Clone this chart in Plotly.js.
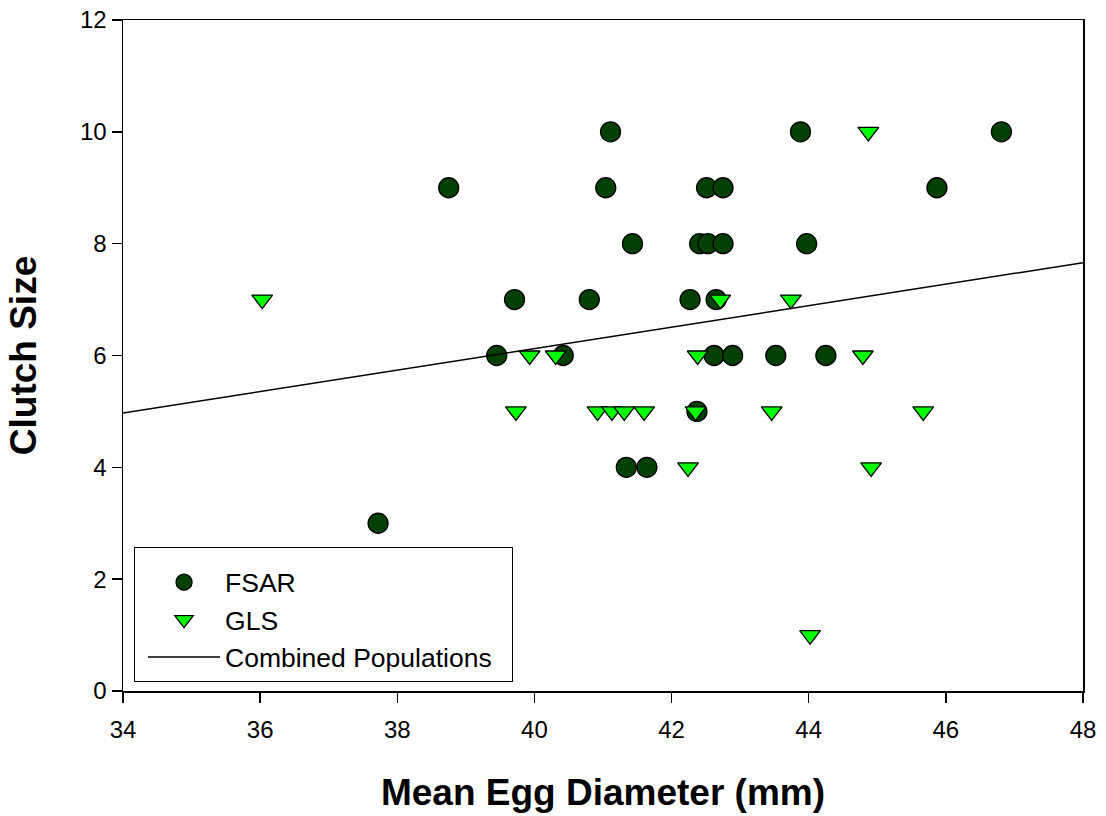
<!DOCTYPE html>
<html>
<head>
<meta charset="utf-8">
<script src="https://cdn.plot.ly/plotly-3.0.1.min.js"></script>
<style>html,body{margin:0;padding:0;background:#fff;}#chart{width:1106px;height:816px;}</style>
</head>
<body>
<div id="chart"></div>
<script>
// FSAR population
const fsarX = [41.11, 43.88, 46.81,
  38.75, 41.04, 42.51, 42.75, 45.87,
  41.43, 42.41, 42.53, 42.75, 43.97,
  39.71, 40.80, 42.27, 42.65,
  39.45, 40.42, 42.62, 42.89, 43.52, 44.25,
  42.37,
  41.34, 41.64,
  37.72];
const fsarY = [10, 10, 10,
  9, 9, 9, 9, 9,
  8, 8, 8, 8, 8,
  7, 7, 7, 7,
  6, 6, 6, 6, 6, 6,
  5,
  4, 4,
  3];
// GLS population
const glsX = [44.87,
  36.03, 42.71, 43.74,
  39.93, 40.31, 42.38, 44.79,
  39.73, 40.92, 41.13, 41.31, 41.60, 42.35, 43.46, 45.67,
  42.24, 44.91,
  44.02];
const glsY = [10,
  7, 7, 7,
  6, 6, 6, 6,
  5, 5, 5, 5, 5, 5, 5, 5,
  4, 4,
  1];
// Combined populations regression line (read endpoints)
const lineX = [34, 48];
const lineY = [4.97, 7.66];

const xTicks = [34, 36, 38, 40, 42, 44, 46, 48];
const yTicks = [0, 2, 4, 6, 8, 10, 12];

const FONT = 'Liberation Sans, Arial, sans-serif';

const traces = [
  {x: fsarX, y: fsarY, type: 'scatter', mode: 'markers', name: 'FSAR',
   marker: {symbol: 'circle', size: 20, color: '#004000', line: {color: '#000', width: 1.3}}},
  {x: glsX, y: glsY, type: 'scatter', mode: 'markers', name: 'GLS',
   marker: {symbol: 'triangle-down', size: 18, color: '#00ff00', line: {color: '#000', width: 1.3}}},
  {x: lineX, y: lineY, type: 'scatter', mode: 'lines', name: 'Combined Populations&nbsp;&nbsp;',
   line: {color: '#000', width: 1.5}}
];

const layout = {
  width: 1106, height: 816,
  margin: {l: 123, r: 23, t: 20, b: 125},
  paper_bgcolor: '#fff', plot_bgcolor: '#fff',
  font: {family: FONT, color: '#000', size: 24},
  showlegend: true,
  legend: {x: 0.0115, y: 0.2146, xanchor: 'left', yanchor: 'top',
    bordercolor: '#000', borderwidth: 1, bgcolor: '#fff',
    font: {size: 26.5, family: FONT},
    title: {text: ' ', font: {size: 8}},
    itemwidth: 72, indentation: 8, tracegroupgap: 0},
  xaxis: {range: [34, 48], tickvals: xTicks, ticktext: xTicks.map(String),
    showgrid: false, zeroline: false, showline: true, mirror: true,
    linecolor: '#000', linewidth: 1.5, ticks: 'outside', ticklen: 10, tickwidth: 1.5, tickcolor: '#000',
    tickfont: {size: 24}, ticklabelstandoff: 7,
    title: {text: '<b>Mean Egg Diameter (mm)</b>', font: {size: 37}, standoff: 37}},
  yaxis: {range: [0, 12], tickvals: yTicks, ticktext: yTicks.map(String),
    showgrid: false, zeroline: false, showline: true, mirror: true,
    linecolor: '#000', linewidth: 1.5, ticks: 'outside', ticklen: 10, tickwidth: 1.5, tickcolor: '#000',
    tickfont: {size: 24},
    title: {text: '<b>Clutch Size</b>', font: {size: 37}, standoff: 32}}
};

Plotly.newPlot('chart', traces, layout, {displayModeBar: false, staticPlot: true});
</script>
</body>
</html>
